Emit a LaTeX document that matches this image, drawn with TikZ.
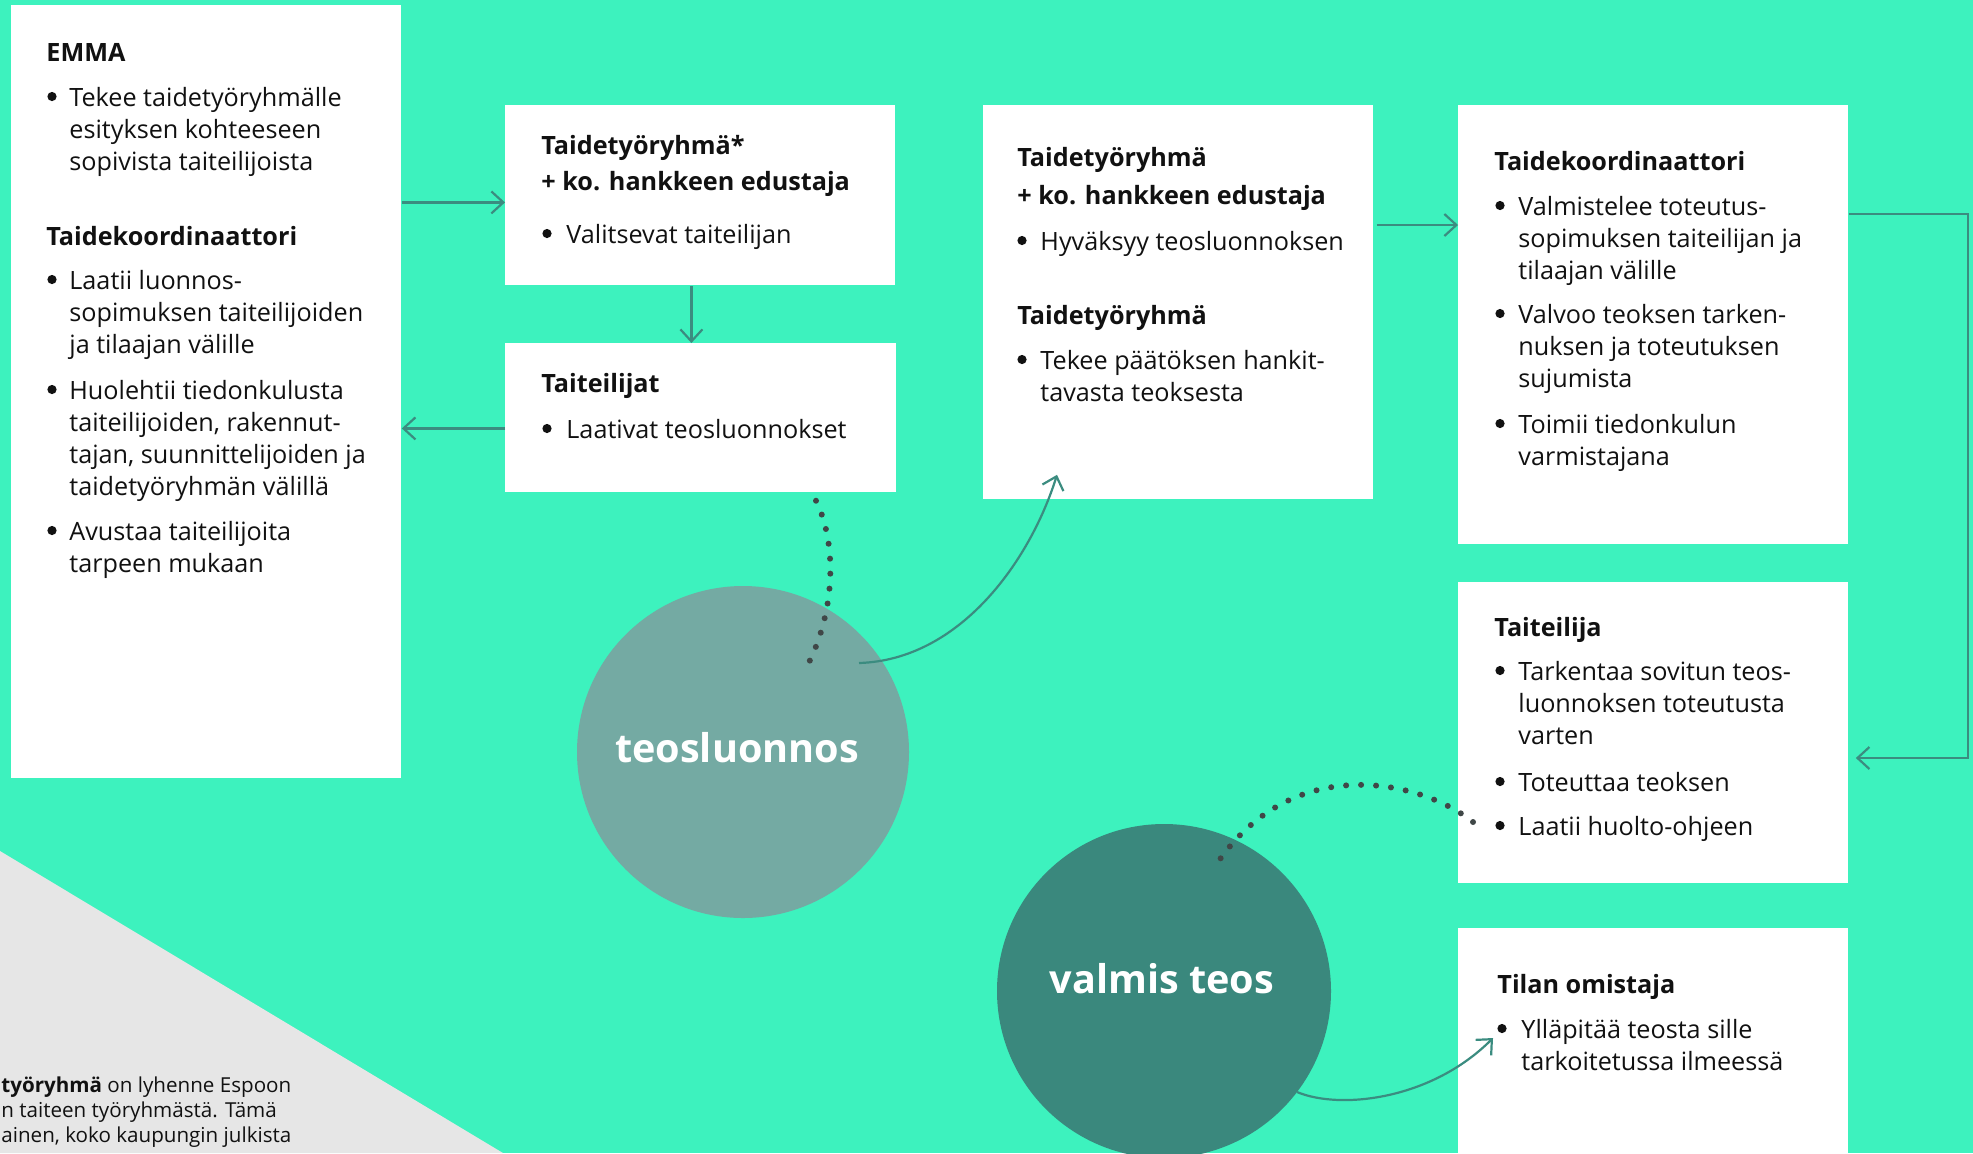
\documentclass[tikz,border=0pt]{standalone}
\usepackage{fontspec}
\setmainfont{Open Sans}
\usetikzlibrary{arrows.meta}
\definecolor{bg}{HTML}{3DF2BE}
\definecolor{sketchc}{HTML}{74AAA3}
\definecolor{finalc}{HTML}{3A887D}
\definecolor{arrowc}{HTML}{3B8C80}
\definecolor{dotc}{HTML}{404747}
\definecolor{tri}{HTML}{E6E6E6}
\definecolor{ink}{HTML}{111111}
\newcommand\bodyfont{\fontsize{12.6pt}{16pt}\selectfont}
\newcommand\notefont{\fontsize{10.3pt}{12.5pt}\selectfont}
\newcommand\lines[1]{\begin{tabular}[t]{@{}l@{}}#1\end{tabular}}
% \bitem{name}{bullet x}{text x}{baseline y}{lines}
\newcommand\bitem[5]{%
  \node[bulletdot] (#1b) at (#2,#4-9.5) {};
  \node[txt] (#1) at (#3,#4) {\lines{#5}};}
\tikzset{
  panel/.style={fill=white, draw=none, inner sep=0pt, anchor=north west},
  txt/.style={inner sep=0pt, anchor=base west, text=ink, font=\bodyfont},
  hdr/.style={txt, font=\bodyfont\bfseries},
  bulletdot/.style={circle, fill=ink, draw=none, inner sep=0pt, minimum size=4.6pt},
  blob/.style={circle, draw=none, inner sep=0pt},
  blobtext/.style={inner sep=0pt, anchor=base, text=white, font=\fontsize{19.8pt}{24pt}\selectfont\bfseries},
  flow/.style={arrowc, line width=1.1pt, -{Straight Barb[length=6pt,width=11pt,line width=1.1pt]}},
  dots/.style={dotc, line width=3pt, line cap=round, dash pattern=on 0pt off 7.5pt},
}
\begin{document}
\begin{tikzpicture}[x=0.5pt, y=-0.5pt]
\useasboundingbox (0,0) rectangle (1973,1153);
\fill[bg] (0,0) rectangle (1973,1153);
\fill[tri] (0,851) -- (503,1153) -- (0,1153) -- cycle;

% circles
\node[blob, fill=sketchc, minimum size=166pt] (sketchC) at (743,752) {};
\node[blob, fill=finalc, minimum size=167pt] (finalC) at (1164,991) {};
\node[blobtext] (sketchL) at (737,762) {teosluonnos};
\node[blobtext] (finalL) at (1162,993) {valmis teos};

% boxes
\node[panel, minimum width=195pt, minimum height=386.5pt] (emma) at (11,5) {};
\node[panel, minimum width=195pt, minimum height=90pt] (tt1) at (505,105) {};
\node[panel, minimum width=195pt, minimum height=74pt] (art) at (505,343) {};

% dotted: artists' sketches -> teosluonnos (behind box)
\draw[dots] ([shift={(108,-4)}]art.south) .. controls +(30,43) and +(33,-60) .. ([shift={(62,-82)}]sketchC.center);
\fill[white] (art.north west) rectangle (art.south east);

\node[panel, minimum width=195pt, minimum height=197pt] (tt2) at (983,105) {};
\node[panel, minimum width=195pt, minimum height=219.5pt] (coord) at (1458,105) {};
\node[panel, minimum width=195pt, minimum height=150.5pt] (art2) at (1458,582) {};
\node[panel, minimum width=195pt, minimum height=112.5pt] (owner) at (1458,928) {};

% Box 1 text
\node[hdr] (h1) at (46,61) {EMMA};
\bitem{e1}{52}{69}{106}{Tekee taidetyöryhmälle\\esityksen kohteeseen\\sopivista taiteilijoista}
\node[hdr] (h2) at (46,245) {Taidekoordinaattori};
\bitem{e2}{52}{69}{289}{Laatii luonnos-\\sopimuksen taiteilijoiden\\ja tilaajan välille}
\bitem{e3}{52}{69}{399}{Huolehtii tiedonkulusta\\taiteilijoiden, rakennut-\\tajan, suunnittelijoiden ja\\taidetyöryhmän välillä}
\bitem{e4}{52}{69}{540}{Avustaa taiteilijoita\\tarpeen mukaan}

% Box 2 / 3 text
\node[hdr] (h3) at (541,154) {Taidetyöryhmä*};
\node[hdr] (h4) at (541,190) {+ ko. hankkeen edustaja};
\bitem{v1}{547}{566}{243}{Valitsevat taiteilijan}
\node[hdr] (h5) at (541,392) {Taiteilijat};
\bitem{a1}{547}{566}{438}{Laativat teosluonnokset}

% Box 4 text
\node[hdr] (h6) at (1017,166) {Taidetyöryhmä};
\node[hdr] (h7) at (1017,204) {+ ko. hankkeen edustaja};
\bitem{y1}{1022}{1040}{250}{Hyväksyy teosluonnoksen}
\node[hdr] (h8) at (1017,324) {Taidetyöryhmä};
\bitem{y2}{1022}{1040}{369}{Tekee päätöksen hankit-\\tavasta teoksesta}

% Box 5 text
\node[hdr] (h9) at (1494,170) {Taidekoordinaattori};
\bitem{k1}{1500}{1518}{215}{Valmistelee toteutus-\\sopimuksen taiteilijan ja\\tilaajan välille}
\bitem{k2}{1500}{1518}{323}{Valvoo teoksen tarken-\\nuksen ja toteutuksen\\sujumista}
\bitem{k3}{1500}{1518}{433}{Toimii tiedonkulun\\varmistajana}

% Box 6 text
\node[hdr] (h10) at (1494,636) {Taiteilija};
\bitem{t1}{1500}{1518}{680}{Tarkentaa sovitun teos-\\luonnoksen toteutusta\\varten}
\bitem{t2}{1500}{1518}{791}{Toteuttaa teoksen}
\bitem{t3}{1500}{1518}{835}{Laatii huolto-ohjeen}

% Box 7 text
\node[hdr] (h11) at (1497,993) {Tilan omistaja};
\bitem{o1}{1502}{1521}{1038}{Ylläpitää teosta sille\\tarkoitetussa ilmeessä}

% footnote
\node[txt, font=\notefont] (note) at (1,1092) {\lines{\textbf{työryhmä} on lyhenne Espoon\\n taiteen työryhmästä. Tämä\\ainen, koko kaupungin julkista}};

% dotted: Taiteilija -> valmis teos
\draw[dots] ([shift={(15,240)}]art2.north west) .. controls +(-52,-42) and +(76,-118) .. ([shift={(50,-123)}]finalC.center);

% connectors
\draw[flow] ([yshift=-3.5pt]tt1.west -| emma.east) -- ([yshift=-3.5pt]tt1.west);
\draw[flow] ([xshift=-4.5pt]tt1.south) -- ([xshift=-4.5pt]art.north);
\draw[flow] ([yshift=-5.5pt]art.west) -- ([yshift=-5.5pt]art.west -| emma.east);
\draw[flow] ([xshift=1.5pt,yshift=-60pt]tt2.north east) -- ([yshift=-60pt]tt2.north east -| coord.west);
\draw[flow] ([yshift=-54.5pt]coord.north east) -- ++(119,0) |- ([xshift=3.5pt,yshift=-88pt]art2.north east);
\draw[flow] ([shift={(116,-89)}]sketchC.center) .. controls +(101,-3) and +(-27,86) .. ([shift={(74,-25)}]tt2.south west);
\draw[flow] ([shift={(133,101)}]finalC.center) .. controls +(43,18) and +(-62,62) .. ([shift={(35,110)}]owner.north west);
\end{tikzpicture}
\end{document}
